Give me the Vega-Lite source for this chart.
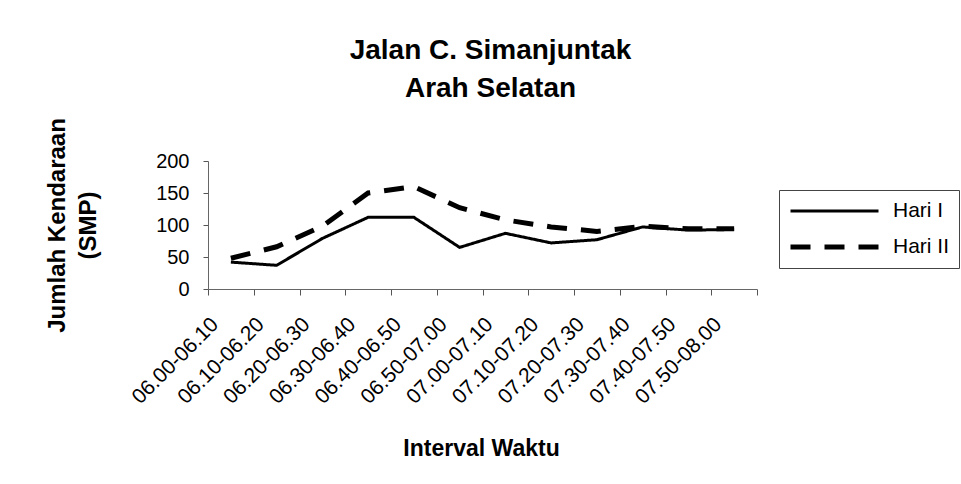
{
  "$schema": "https://vega.github.io/schema/vega-lite/v6.json",
  "width": 549,
  "height": 128,
  "autosize": {"type": "none"},
  "padding": {"left": 208, "top": 161, "right": 204, "bottom": 195},
  "background": "white",
  "config": {"view": {"stroke": null}},
  "title": {
    "text": ["Jalan C. Simanjuntak", "Arah Selatan"],
    "font": "Liberation Sans",
    "fontSize": 28,
    "fontWeight": "bold",
    "lineHeight": 38,
    "anchor": "middle",
    "dx": 8,
    "offset": 15,
    "color": "black"
  },
  "data": {
    "values": [
      {"interval": "06.00-06.10", "hari": "Hari I", "smp": 42},
      {"interval": "06.10-06.20", "hari": "Hari I", "smp": 37},
      {"interval": "06.20-06.30", "hari": "Hari I", "smp": 79},
      {"interval": "06.30-06.40", "hari": "Hari I", "smp": 112},
      {"interval": "06.40-06.50", "hari": "Hari I", "smp": 112},
      {"interval": "06.50-07.00", "hari": "Hari I", "smp": 65},
      {"interval": "07.00-07.10", "hari": "Hari I", "smp": 87},
      {"interval": "07.10-07.20", "hari": "Hari I", "smp": 72},
      {"interval": "07.20-07.30", "hari": "Hari I", "smp": 77},
      {"interval": "07.30-07.40", "hari": "Hari I", "smp": 97},
      {"interval": "07.40-07.50", "hari": "Hari I", "smp": 92},
      {"interval": "07.50-08.00", "hari": "Hari I", "smp": 93},
      {"interval": "06.00-06.10", "hari": "Hari II", "smp": 48},
      {"interval": "06.10-06.20", "hari": "Hari II", "smp": 66},
      {"interval": "06.20-06.30", "hari": "Hari II", "smp": 98},
      {"interval": "06.30-06.40", "hari": "Hari II", "smp": 150},
      {"interval": "06.40-06.50", "hari": "Hari II", "smp": 160},
      {"interval": "06.50-07.00", "hari": "Hari II", "smp": 127},
      {"interval": "07.00-07.10", "hari": "Hari II", "smp": 108},
      {"interval": "07.10-07.20", "hari": "Hari II", "smp": 97},
      {"interval": "07.20-07.30", "hari": "Hari II", "smp": 90},
      {"interval": "07.30-07.40", "hari": "Hari II", "smp": 98},
      {"interval": "07.40-07.50", "hari": "Hari II", "smp": 94},
      {"interval": "07.50-08.00", "hari": "Hari II", "smp": 94}
    ]
  },
  "mark": {"type": "line", "color": "black", "strokeCap": "butt"},
  "encoding": {
    "x": {
      "field": "interval",
      "type": "ordinal",
      "sort": null,
      "bandPosition": 0.5,
      "scale": {"type": "band", "paddingInner": 0, "paddingOuter": 0},
      "axis": {
        "title": "Interval Waktu",
        "titleFont": "Liberation Sans",
        "titleFontSize": 23,
        "titleFontWeight": "bold",
        "titleColor": "black",
        "titleX": 273,
        "titleY": 159,
        "titleBaseline": "middle",
        "titleAlign": "center",
        "labelAngle": -45,
        "labelAlign": "right",
        "labelBaseline": "middle",
        "labelFont": "Liberation Sans",
        "labelFontSize": 21,
        "labelColor": "black",
        "labelPadding": 26,
        "labelOffset": -16,
        "labelOverlap": false,
        "tickBand": "extent",
        "tickSize": 6,
        "tickColor": "#555",
        "domainColor": "#666",
        "grid": false
      }
    },
    "y": {
      "field": "smp",
      "type": "quantitative",
      "scale": {"domain": [0, 200], "nice": false},
      "axis": {
        "title": ["Jumlah Kendaraan", "(SMP)"],
        "titleFont": "Liberation Sans",
        "titleFontSize": 24,
        "titleFontWeight": "bold",
        "titleLineHeight": 31,
        "titleColor": "black",
        "titleAngle": -90,
        "titleX": -139,
        "titleY": 64,
        "titleAlign": "center",
        "titleBaseline": "bottom",
        "values": [0, 50, 100, 150, 200],
        "labelFont": "Liberation Sans",
        "labelFontSize": 20,
        "labelColor": "black",
        "labelPadding": 14,
        "tickSize": 5,
        "tickColor": "#555",
        "domainColor": "#666",
        "grid": false
      }
    },
    "strokeDash": {
      "field": "hari",
      "type": "nominal",
      "scale": {"domain": ["Hari I", "Hari II"], "range": [[1, 0], [20, 14]]},
      "legend": {
        "title": null,
        "orient": "none",
        "legendX": 571,
        "legendY": 29,
        "symbolType": "stroke",
        "symbolSize": 7744,
        "symbolStrokeColor": "black",
        "clipHeight": 24,
        "labelFont": "Liberation Sans",
        "labelFontSize": 21,
        "labelColor": "black",
        "labelOffset": 12,
        "strokeColor": "#444",
        "padding": 9,
        "rowPadding": 12
      }
    },
    "strokeWidth": {
      "field": "hari",
      "type": "nominal",
      "scale": {"domain": ["Hari I", "Hari II"], "range": [3, 5]},
      "legend": {
        "title": null,
        "orient": "none",
        "legendX": 571,
        "legendY": 29,
        "symbolType": "stroke",
        "symbolSize": 7744,
        "symbolStrokeColor": "black",
        "clipHeight": 24,
        "labelFont": "Liberation Sans",
        "labelFontSize": 21,
        "labelColor": "black",
        "labelOffset": 12,
        "strokeColor": "#444",
        "padding": 9,
        "rowPadding": 12
      }
    }
  }
}
